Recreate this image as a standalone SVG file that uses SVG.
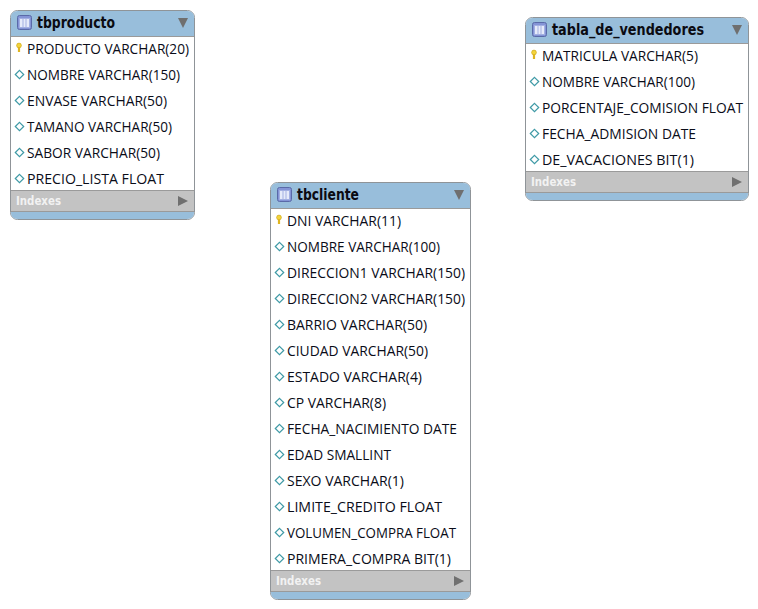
<svg xmlns="http://www.w3.org/2000/svg" xmlns:xlink="http://www.w3.org/1999/xlink" width="758" height="609" viewBox="0 0 758 609">
<style>
.card{fill:#fff;stroke:#8f9498;stroke-width:1}
.head{fill:#98bedb}
.idx{fill:#c3c3c3}
.sep{stroke:#9a9a9a;stroke-width:1}
.title{font:bold 15px "DejaVu Sans",sans-serif;fill:#0b0b12}
.row{font:14px "Open Sans","DejaVu Sans",sans-serif;fill:#0a0c18}
.ix{font:bold 11.5px "DejaVu Sans",sans-serif;fill:#f2f2f2}
</style>
<defs>
<g id="tblicon"><rect x="0.5" y="0.5" width="14" height="14" rx="2" fill="#8494d6" stroke="#5a6aa8"/><rect x="2.5" y="3.5" width="10" height="9" fill="#e6ebfa" stroke="#a3b0e2"/><path d="M6 4V12M9 4V12" stroke="#a3b0e2"/></g>
<g id="key"><circle cx="3" cy="2.5" r="2.4" fill="#f3d43c" stroke="#c8a010" stroke-width=".6"/><path d="M3 4V9" stroke="#dfb520" stroke-width="2.200"/></g>
<path id="dia" d="M4.500 0.300 8.700 4.500 4.500 8.700 0.300 4.500Z" fill="#fff" stroke="#3f9aa6" stroke-width="1.200"/>
<path id="down" d="M0 0H10L5 10Z" fill="#6f6f6f"/>
<path id="right" d="M0 0 10 5 0 10Z" fill="#707070"/>
</defs>
<g id="connectors"/>
<g id="tbproducto">
<rect class="card" x="10.5" y="10.5" width="184" height="209" rx="7"/>
<path class="head" d="M11 36V17.5Q11 11 17.5 11H187.5Q194 11 194 17.5V36Z"/>
<path class="head" d="M11 212H194V212.5Q194 219 187.5 219H17.5Q11 219 11 212.5Z"/>
<rect class="idx" x="11" y="190" width="183" height="22"/>
<path class="sep" d="M11 36.500H194M11 190.500H194M11 211.500H194"/>
<use xlink:href="#tblicon" x="17" y="15"/>
<text class="title" x="37" y="28" textLength="78" lengthAdjust="spacingAndGlyphs">tbproducto</text>
<use xlink:href="#down" x="178" y="18"/>
<use xlink:href="#key" x="16" y="43"/>
<text class="row" x="27" y="54" textLength="162" lengthAdjust="spacingAndGlyphs">PRODUCTO VARCHAR(20)</text>
<use xlink:href="#dia" x="15" y="70"/>
<text class="row" x="27" y="80" textLength="153" lengthAdjust="spacingAndGlyphs">NOMBRE VARCHAR(150)</text>
<use xlink:href="#dia" x="15" y="96"/>
<text class="row" x="27" y="106" textLength="140" lengthAdjust="spacingAndGlyphs">ENVASE VARCHAR(50)</text>
<use xlink:href="#dia" x="15" y="122"/>
<text class="row" x="27" y="132" textLength="145" lengthAdjust="spacingAndGlyphs">TAMANO VARCHAR(50)</text>
<use xlink:href="#dia" x="15" y="148"/>
<text class="row" x="27" y="158" textLength="133" lengthAdjust="spacingAndGlyphs">SABOR VARCHAR(50)</text>
<use xlink:href="#dia" x="15" y="174"/>
<text class="row" x="27" y="184" textLength="137" lengthAdjust="spacingAndGlyphs">PRECIO_LISTA FLOAT</text>
<text class="ix" x="16" y="205" textLength="45" lengthAdjust="spacingAndGlyphs">Indexes</text>
<use xlink:href="#right" x="178" y="196"/>
</g>
<g id="tabla_de_vendedores">
<rect class="card" x="525.500" y="17.500" width="223" height="183" rx="7"/>
<path class="head" d="M526 43V24.500Q526 18 532.500 18H741.500Q748 18 748 24.500V43Z"/>
<path class="head" d="M526 193H748V193.500Q748 200 741.500 200H532.500Q526 200 526 193.500Z"/>
<rect class="idx" x="526" y="171" width="222" height="22"/>
<path class="sep" d="M526 43.500H748M526 171.500H748M526 192.500H748"/>
<use xlink:href="#tblicon" x="532" y="22"/>
<text class="title" x="552" y="35" textLength="152" lengthAdjust="spacingAndGlyphs">tabla_de_vendedores</text>
<use xlink:href="#down" x="732" y="25"/>
<use xlink:href="#key" x="531" y="50"/>
<text class="row" x="542" y="61" textLength="156" lengthAdjust="spacingAndGlyphs">MATRICULA VARCHAR(5)</text>
<use xlink:href="#dia" x="530" y="77"/>
<text class="row" x="542" y="87" textLength="153" lengthAdjust="spacingAndGlyphs">NOMBRE VARCHAR(100)</text>
<use xlink:href="#dia" x="530" y="103"/>
<text class="row" x="542" y="113" textLength="201" lengthAdjust="spacingAndGlyphs">PORCENTAJE_COMISION FLOAT</text>
<use xlink:href="#dia" x="530" y="129"/>
<text class="row" x="542" y="139" textLength="154" lengthAdjust="spacingAndGlyphs">FECHA_ADMISION DATE</text>
<use xlink:href="#dia" x="530" y="155"/>
<text class="row" x="542" y="165" textLength="152" lengthAdjust="spacingAndGlyphs">DE_VACACIONES BIT(1)</text>
<text class="ix" x="531" y="186" textLength="45" lengthAdjust="spacingAndGlyphs">Indexes</text>
<use xlink:href="#right" x="732" y="177"/>
</g>
<g id="tbcliente">
<rect class="card" x="270.500" y="182.500" width="200" height="417" rx="7"/>
<path class="head" d="M271 208V189.500Q271 183 277.500 183H463.500Q470 183 470 189.500V208Z"/>
<path class="head" d="M271 592H470V592.500Q470 599 463.500 599H277.500Q271 599 271 592.500Z"/>
<rect class="idx" x="271" y="570" width="199" height="22"/>
<path class="sep" d="M271 208.500H470M271 570.500H470M271 591.500H470"/>
<use xlink:href="#tblicon" x="277" y="187"/>
<text class="title" x="297" y="200" textLength="62" lengthAdjust="spacingAndGlyphs">tbcliente</text>
<use xlink:href="#down" x="454" y="190"/>
<use xlink:href="#key" x="276" y="215"/>
<text class="row" x="287" y="226" textLength="114" lengthAdjust="spacingAndGlyphs">DNI VARCHAR(11)</text>
<use xlink:href="#dia" x="275" y="242"/>
<text class="row" x="287" y="252" textLength="153" lengthAdjust="spacingAndGlyphs">NOMBRE VARCHAR(100)</text>
<use xlink:href="#dia" x="275" y="268"/>
<text class="row" x="287" y="278" textLength="178" lengthAdjust="spacingAndGlyphs">DIRECCION1 VARCHAR(150)</text>
<use xlink:href="#dia" x="275" y="294"/>
<text class="row" x="287" y="304" textLength="178" lengthAdjust="spacingAndGlyphs">DIRECCION2 VARCHAR(150)</text>
<use xlink:href="#dia" x="275" y="320"/>
<text class="row" x="287" y="330" textLength="140" lengthAdjust="spacingAndGlyphs">BARRIO VARCHAR(50)</text>
<use xlink:href="#dia" x="275" y="346"/>
<text class="row" x="287" y="356" textLength="141" lengthAdjust="spacingAndGlyphs">CIUDAD VARCHAR(50)</text>
<use xlink:href="#dia" x="275" y="372"/>
<text class="row" x="287" y="382" textLength="135" lengthAdjust="spacingAndGlyphs">ESTADO VARCHAR(4)</text>
<use xlink:href="#dia" x="275" y="398"/>
<text class="row" x="287" y="408" textLength="99" lengthAdjust="spacingAndGlyphs">CP VARCHAR(8)</text>
<use xlink:href="#dia" x="275" y="424"/>
<text class="row" x="287" y="434" textLength="170" lengthAdjust="spacingAndGlyphs">FECHA_NACIMIENTO DATE</text>
<use xlink:href="#dia" x="275" y="450"/>
<text class="row" x="287" y="460" textLength="104" lengthAdjust="spacingAndGlyphs">EDAD SMALLINT</text>
<use xlink:href="#dia" x="275" y="476"/>
<text class="row" x="287" y="486" textLength="117" lengthAdjust="spacingAndGlyphs">SEXO VARCHAR(1)</text>
<use xlink:href="#dia" x="275" y="502"/>
<text class="row" x="287" y="512" textLength="155" lengthAdjust="spacingAndGlyphs">LIMITE_CREDITO FLOAT</text>
<use xlink:href="#dia" x="275" y="528"/>
<text class="row" x="287" y="538" textLength="169" lengthAdjust="spacingAndGlyphs">VOLUMEN_COMPRA FLOAT</text>
<use xlink:href="#dia" x="275" y="554"/>
<text class="row" x="287" y="564" textLength="164" lengthAdjust="spacingAndGlyphs">PRIMERA_COMPRA BIT(1)</text>
<text class="ix" x="276" y="585" textLength="45" lengthAdjust="spacingAndGlyphs">Indexes</text>
<use xlink:href="#right" x="454" y="576"/>
</g>
</svg>
